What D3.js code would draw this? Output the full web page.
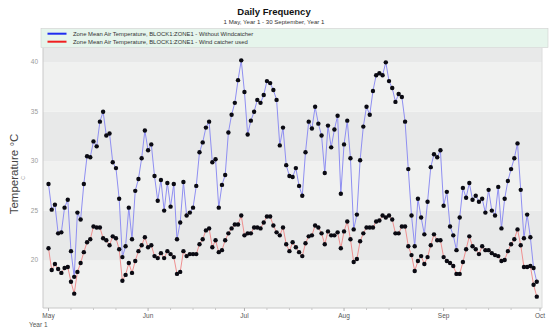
<!DOCTYPE html>
<html>
<head>
<meta charset="utf-8">
<script src="https://cdn.jsdelivr.net/npm/d3@7"></script>
<style>
  body { margin: 0; background: #fff; }
  svg { display: block; font-family: "Liberation Sans", Arial, sans-serif; }
</style>
</head>
<body>
<svg width="550" height="332"></svg>
<script>
// daily means, 1 May .. 30 Sep (153 days)
const withoutWindcatcher = [
  27.7, 25.1, 25.6, 22.7, 22.8, 25.3, 26.1, 20.9, 18.3, 24.8,
  24.1, 27.7, 30.5, 30.4, 32.0, 31.5, 34.0, 35.0, 32.6, 32.8,
  29.9, 29.3, 26.2, 20.3, 21.4, 25.3, 22.1, 27.0, 28.2, 30.3,
  33.1, 31.1, 31.7, 28.5, 26.0, 28.1, 25.0, 27.8, 25.4, 27.7,
  22.1, 23.8, 27.9, 24.5, 24.8, 25.3, 27.5, 30.9, 31.9, 33.4,
  34.0, 29.9, 30.2, 25.3, 27.6, 28.6, 32.9, 34.7, 35.9, 38.2,
  40.2, 37.0, 32.7, 34.1, 35.0, 36.2, 35.9, 36.7, 38.1, 37.9,
  37.2, 36.2, 31.6, 33.4, 29.6, 28.5, 28.4, 29.3, 27.5, 26.5,
  30.9, 34.0, 33.3, 35.5, 33.8, 32.6, 28.8, 33.6, 31.4, 33.2,
  34.6, 26.7, 31.7, 34.1, 30.3, 23.1, 24.6, 30.1, 33.5, 35.5,
  34.7, 37.1, 38.7, 38.9, 38.7, 40.0, 38.1, 37.4, 36.0, 36.8,
  36.5, 34.0, 29.2, 24.5, 21.4, 26.2, 24.3, 22.6, 25.9, 29.4,
  30.7, 30.4, 31.1, 25.5, 26.9, 23.4, 22.5, 21.0, 24.3, 27.3,
  26.3, 27.8, 26.1, 26.5, 25.9, 26.2, 24.8, 27.1, 25.0, 24.5,
  27.4, 23.2, 26.2, 28.0, 29.2, 30.3, 31.8, 27.1, 22.2, 24.6,
  22.3, 19.2, 17.8
]
const windcatcherUsed = [
  21.2, 19.0, 19.6, 19.1, 18.7, 19.2, 19.3, 17.8, 16.6, 18.8,
  19.7, 20.8, 21.8, 22.1, 23.4, 23.3, 23.3, 22.2, 22.0, 21.5,
  22.4, 22.2, 21.1, 17.9, 18.5, 19.7, 18.7, 19.9, 20.9, 21.5,
  22.3, 21.3, 21.5, 20.4, 20.2, 20.7, 20.2, 20.9, 20.6, 20.3,
  18.6, 18.8, 20.9, 20.4, 20.6, 20.6, 20.6, 21.6, 22.1, 23.0,
  23.2, 21.3, 22.0, 20.8, 21.0, 22.0, 22.7, 23.2, 23.6, 23.6,
  24.5, 22.5, 22.7, 22.7, 23.3, 23.3, 23.2, 23.8, 24.4, 24.4,
  23.5, 22.8, 22.5, 23.3, 21.6, 20.9, 21.8, 21.3, 20.8, 20.4,
  21.7, 22.4, 22.5, 23.5, 23.3, 22.7, 21.6, 22.9, 22.5, 22.5,
  22.8, 21.2, 22.9, 23.9, 22.1, 19.8, 20.1, 21.9, 22.7, 23.3,
  23.3, 23.3, 23.9, 24.0, 24.5, 24.3, 24.5, 24.1, 22.7, 22.7,
  23.4, 23.4, 21.4, 20.5, 18.9, 19.9, 20.4, 19.6, 20.3, 21.5,
  22.6, 22.0, 22.0, 20.3, 19.9, 19.7, 19.4, 18.6, 18.6, 19.8,
  21.1, 22.4, 21.4, 21.1, 20.6, 21.4, 21.0, 21.0, 20.7, 20.5,
  20.4, 19.9, 20.0, 20.9, 21.6, 22.1, 23.1, 21.5, 19.3, 19.3,
  19.4, 17.5, 16.3
]
const yTicks = [20, 25, 30, 35, 40]
const monthLabels = ["May", "Jun", "Jul", "Aug", "Sep", "Oct"]
const seriesNames = [
  "Zone Mean Air Temperature, BLOCK1:ZONE1 - Without Windcatcher",
  "Zone Mean Air Temperature, BLOCK1:ZONE1 - Wind catcher used"
]

const svg = d3.select("svg")
const plotL = 43, plotR = 542, plotT = 48, plotB = 308

const start = new Date(Date.UTC(2001, 4, 1))
const end = new Date(Date.UTC(2001, 9, 1))
const x = d3.scaleUtc().domain([start, end]).range([48.5, 540])
const y = d3.scaleLinear().domain([15.15, 41.45]).range([plotB, plotT])

// alternating bands every 5 degrees
let bandEdges = [y.domain()[0], 20, 25, 30, 35, 40, y.domain()[1]]
for (let i = 0; i < bandEdges.length - 1; i++) {
  svg.append("rect")
    .attr("x", plotL)
    .attr("width", plotR - plotL)
    .attr("y", y(bandEdges[i + 1]))
    .attr("height", y(bandEdges[i]) - y(bandEdges[i + 1]))
    .attr("fill", i % 2 == 0 ? "#f0f1f0" : "#e8e9e9")
}

// axes lines
svg.append("line").attr("x1", plotL).attr("x2", plotL).attr("y1", plotT).attr("y2", plotB)
  .attr("stroke", "#c8c8c8")
svg.append("line").attr("x1", plotL).attr("x2", plotR).attr("y1", plotB).attr("y2", plotB)
  .attr("stroke", "#c8c8c8")
svg.append("line").attr("x1", plotR).attr("x2", plotR).attr("y1", plotT).attr("y2", plotB)
  .attr("stroke", "#dcdcdc")

svg.selectAll(".ytick").data(yTicks).enter().append("text")
  .attr("x", 38)
  .attr("y", d => y(d) + 2)
  .attr("text-anchor", "end")
  .attr("font-size", 6.5)
  .attr("fill", "#9a9a9a")
  .text(d => d)

// month ticks + weekly minor ticks
let months = d3.utcMonth.range(start, d3.utcDay.offset(end, 1))
let minor = []
months.forEach(m => {
  [7, 14, 21].forEach(k => minor.push(d3.utcDay.offset(m, k)))
})
minor = minor.filter(d => d < end)

svg.selectAll(".mtick").data(months).enter().append("line")
  .attr("x1", d => x(d)).attr("x2", d => x(d))
  .attr("y1", plotB).attr("y2", plotB + 3)
  .attr("stroke", "#b0b0b0")
svg.selectAll(".ntick").data(minor).enter().append("line")
  .attr("x1", d => x(d)).attr("x2", d => x(d))
  .attr("y1", plotB).attr("y2", plotB + 2)
  .attr("stroke", "#c8c8c8")
svg.selectAll(".mlabel").data(months).enter().append("text")
  .attr("x", d => x(d))
  .attr("y", plotB + 10)
  .attr("text-anchor", "middle")
  .attr("font-size", 6.5)
  .attr("fill", "#555")
  .text((d, i) => monthLabels[i])
svg.append("text").attr("x", 29).attr("y", 327)
  .attr("font-size", 6.5).attr("fill", "#555").text("Year 1")

// y axis title
svg.append("text")
  .attr("transform", "translate(18,174) rotate(-90)")
  .attr("text-anchor", "middle")
  .attr("font-size", 11.5)
  .attr("fill", "#444")
  .text("Temperature  \u00b0C")
svg.append("text")
  .attr("transform", "translate(25,178) rotate(-90)")
  .attr("text-anchor", "middle")
  .attr("font-size", 5)
  .attr("fill", "#999")
  .text("C")

// series
const days = d3.range(withoutWindcatcher.length).map(i => d3.utcDay.offset(start, i))
const series = [
  { values: withoutWindcatcher, line: "#8f8ff2", key: "#1e2df0" },
  { values: windcatcherUsed, line: "#ef9090", key: "#f02020" }
]
const line = d3.line().x((d, i) => x(days[i])).y(d => y(d))

series.forEach(s => {
  svg.append("path")
    .attr("d", line(s.values))
    .attr("fill", "none")
    .attr("stroke", s.line)
    .attr("stroke-width", 1)
})
series.forEach(s => {
  svg.append("g").selectAll("circle").data(s.values).enter().append("circle")
    .attr("cx", (d, i) => x(days[i]))
    .attr("cy", d => y(d))
    .attr("r", 2.2)
    .attr("fill", "#0a0a12")
})

// legend
svg.append("rect").attr("x", 41).attr("y", 28.5).attr("width", 507).attr("height", 19)
  .attr("fill", "#e6f5ec").attr("stroke", "#cfcfcf").attr("stroke-width", 0.6)
series.forEach((s, i) => {
  svg.append("line")
    .attr("x1", 47.5).attr("x2", 66.5)
    .attr("y1", 33.7 + i * 8).attr("y2", 33.7 + i * 8)
    .attr("stroke", s.key).attr("stroke-width", 2)
  svg.append("text")
    .attr("x", 73).attr("y", 35.8 + i * 8)
    .attr("font-size", 5.9).attr("fill", "#333")
    .text(seriesNames[i])
})

// titles
svg.append("text").attr("x", 274).attr("y", 15)
  .attr("text-anchor", "middle").attr("font-size", 9.5).attr("font-weight", "bold")
  .attr("fill", "#111").text("Daily Frequency")
svg.append("text").attr("x", 274).attr("y", 24)
  .attr("text-anchor", "middle").attr("font-size", 6.1)
  .attr("fill", "#333").text("1 May, Year 1 - 30 September, Year 1")
</script>
</body>
</html>
